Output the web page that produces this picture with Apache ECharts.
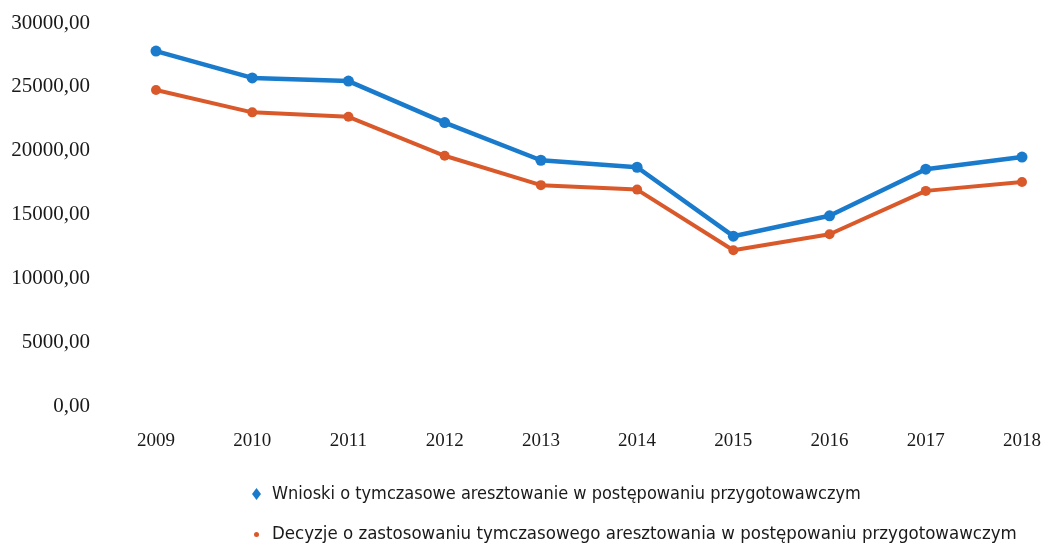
<!DOCTYPE html>
<html>
<head>
<meta charset="utf-8">
<script src="https://cdn.jsdelivr.net/npm/echarts@6/dist/echarts.min.js"></script>
<style>
  html, body { margin: 0; padding: 0; background: #ffffff; }
  #chart { width: 1044px; height: 544px; }
</style>
</head>
<body>
<div id="chart"></div>
<script>
// Years on the horizontal axis
const years = ['2009', '2010', '2011', '2012', '2013', '2014', '2015', '2016', '2017', '2018'];

// Applications for pre-trial detention (preparatory proceedings)
const wnioski = [27800, 25700, 25450, 22200, 19250, 18700, 13300, 14900, 18550, 19500];

// Decisions applying pre-trial detention (preparatory proceedings)
const decyzje = [24750, 23000, 22650, 19600, 17300, 16950, 12200, 13450, 16850, 17550];

const nameWnioski = 'Wnioski o tymczasowe aresztowanie w postępowaniu przygotowawczym';
const nameDecyzje = 'Decyzje o zastosowaniu tymczasowego aresztowania w postępowaniu przygotowawczym';

const blue = '#1a7bcc';
const orange = '#d9592b';

const chart = echarts.init(document.getElementById('chart'));

const legendFont = "'Liberation Sans Narrow', 'DejaVu Sans Condensed', 'Noto Sans', sans-serif";

chart.setOption({
  animation: false,
  backgroundColor: '#ffffff',
  grid: { left: 156, right: 16, top: 23, bottom: 138 },
  xAxis: {
    type: 'category',
    data: years,
    boundaryGap: false,
    axisLine: { show: false },
    axisTick: { show: false },
    axisLabel: {
      margin: 26,
      fontFamily: 'Liberation Serif',
      fontSize: 19,
      color: '#1a1a1a'
    }
  },
  yAxis: {
    type: 'value',
    min: 0,
    max: 30000,
    interval: 5000,
    splitLine: { show: false },
    axisLine: { show: false },
    axisTick: { show: false },
    axisLabel: {
      margin: 66,
      fontFamily: 'Liberation Serif',
      fontSize: 21,
      color: '#1a1a1a',
      formatter: v => v.toFixed(2).replace('.', ',')
    }
  },
  legend: [
    {
      orient: 'vertical',
      left: 247,
      top: 480,
      itemWidth: 9,
      itemHeight: 12,
      textStyle: {
        fontFamily: legendFont,
        fontSize: 18,
        color: '#1a1a1a',
        padding: [0, 0, 0, 6]
      },
      data: [{ name: nameWnioski, icon: 'diamond' }]
    },
    {
      orient: 'vertical',
      left: 249,
      top: 520,
      itemWidth: 5,
      itemHeight: 5,
      textStyle: {
        fontFamily: legendFont,
        fontSize: 18.5,
        color: '#1a1a1a',
        padding: [0, 0, 0, 8]
      },
      data: [{ name: nameDecyzje, icon: 'circle' }]
    }
  ],
  series: [
    {
      name: nameWnioski,
      type: 'line',
      data: wnioski,
      symbol: 'circle',
      symbolSize: 11,
      lineStyle: { width: 4.5, color: blue },
      itemStyle: { color: blue }
    },
    {
      name: nameDecyzje,
      type: 'line',
      data: decyzje,
      symbol: 'circle',
      symbolSize: 10,
      lineStyle: { width: 4, color: orange },
      itemStyle: { color: orange }
    }
  ]
});
</script>
</body>
</html>
